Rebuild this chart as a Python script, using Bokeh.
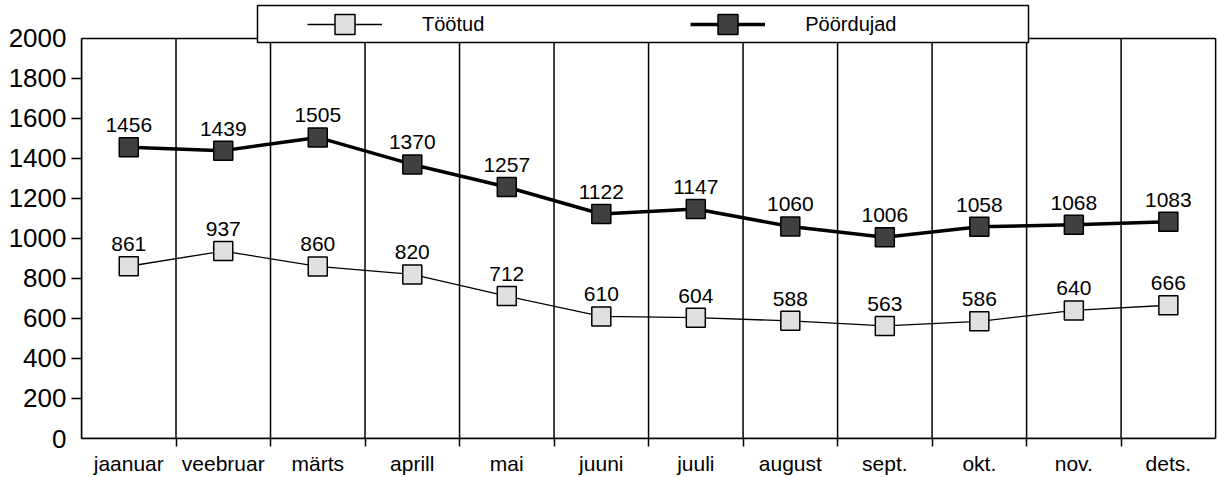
from bokeh.plotting import figure
from bokeh.models import (ColumnDataSource, FixedTicker, Range1d, Legend, LegendItem,
                          LabelSet, BoxAnnotation)
from bokeh.core.properties import value
from bokeh.embed import file_html
from bokeh.resources import INLINE

# ---- data ----
months = ["jaanuar", "veebruar", "märts", "aprill", "mai", "juuni",
          "juuli", "august", "sept.", "okt.", "nov.", "dets."]
tootud = [861, 937, 860, 820, 712, 610, 604, 588, 563, 586, 640, 666]
poordujad = [1456, 1439, 1505, 1370, 1257, 1122, 1147, 1060, 1006, 1058, 1068, 1083]
series_names = ["Töötud", "Pöördujad"]
y_ticks = [0, 200, 400, 600, 800, 1000, 1200, 1400, 1600, 1800, 2000]

# ---- layout constants (pixels) ----
W, H = 1218, 477
LEFT = 81          # frame left
BOTTOM = 38        # x-axis panel height (ticks + standoff + labels)
RIGHT = 1
FRAME_B = H - BOTTOM   # frame bottom, canvas px
TOP_GAP = 38           # y of the 2000 line, canvas px
y_max = y_ticks[-1]
y_end = y_max * FRAME_B / (FRAME_B - TOP_GAP)

n = len(months)
xs = list(range(1, n + 1))
bounds = [i + 0.5 for i in range(1, n)]

p = figure(width=W, height=H, output_backend="svg", toolbar_location=None,
           x_range=Range1d(0.5, n + 0.52), y_range=Range1d(0, y_end),
           min_border_left=LEFT, min_border_right=RIGHT, min_border_top=0,
           min_border_bottom=BOTTOM)
p.outline_line_color = None
p.xgrid.visible = False
p.ygrid.visible = False
p.background_fill_color = "white"
p.border_fill_color = "white"

FONT = "Liberation Sans"

# x axis
xa = p.xaxis[0]
xa.ticker = FixedTicker(ticks=xs, minor_ticks=bounds)
xa.major_label_overrides = {x: m for x, m in zip(xs, months)}
xa.major_tick_line_color = None
xa.major_tick_out = 0
xa.major_tick_in = 0
xa.minor_tick_out = 8
xa.minor_tick_in = 0
xa.minor_tick_line_color = "black"
xa.minor_tick_line_width = 1.5
xa.major_label_standoff = 5
xa.major_label_text_font = FONT
xa.major_label_text_font_size = "21px"
xa.major_label_text_color = "black"
xa.axis_line_width = 1.5
xa.axis_line_color = "black"
xa.bounds = (0.5, n + 0.5)

# y axis
ya = p.yaxis[0]
ya.ticker = FixedTicker(ticks=y_ticks, minor_ticks=y_ticks[1:-1])
ya.major_tick_line_color = None
ya.major_tick_out = 0
ya.major_tick_in = 0
ya.minor_tick_out = 10
ya.minor_tick_in = 0
ya.minor_tick_line_color = "black"
ya.minor_tick_line_width = 1.5
ya.major_label_standoff = 5
ya.major_label_text_font = FONT
ya.major_label_text_font_size = "26px"
ya.major_label_text_color = "black"
ya.axis_line_width = 1.5
ya.axis_line_color = "black"
ya.bounds = (0, y_max)

# frame box and category separators
p.quad(left=[0.5], right=[n + 0.5], bottom=[0], top=[y_max],
       fill_color=None, line_color="black", line_width=1.5)
p.segment(x0=bounds, y0=[0] * len(bounds), x1=bounds, y1=[y_max] * len(bounds),
          line_color="black", line_width=1.5)

src = ColumnDataSource(dict(x=xs, t=tootud, p=poordujad,
                            tl=[str(v) for v in tootud],
                            pl=[str(v) for v in poordujad]))

r1 = p.line("x", "t", source=src, line_color="black", line_width=1.3)
s1 = p.scatter("x", "t", source=src, marker="square", size=19,
               fill_color="#e0e0e0", line_color="black", line_width=1.5)
r2 = p.line("x", "p", source=src, line_color="black", line_width=3.5)
s2 = p.scatter("x", "p", source=src, marker="square", size=19,
               fill_color="#404040", line_color="black", line_width=1.5)

for col, ycol in (("tl", "t"), ("pl", "p")):
    p.add_layout(LabelSet(x="x", y=ycol, text=col, source=src,
                          text_align="center", text_baseline="alphabetic",
                          y_offset=15, text_font=value(FONT),
                          text_font_size=value("21px"),
                          text_color="black"))

# legend box (screen units, relative to the frame's bottom-left)
box = BoxAnnotation(left=257 - LEFT, right=1028 - LEFT,
                    bottom=FRAME_B - 43, top=FRAME_B - 6,
                    left_units="screen", right_units="screen",
                    top_units="screen", bottom_units="screen",
                    fill_color="white", fill_alpha=1.0,
                    line_color="black", line_width=1.5, line_alpha=1.0)
p.add_layout(box)

legend = Legend(items=[LegendItem(label=series_names[0], renderers=[r1, s1]),
                       LegendItem(label=series_names[1], renderers=[r2, s2])],
                location=(307 - LEFT, FRAME_B - 50), orientation="horizontal",
                border_line_alpha=0, background_fill_alpha=0,
                padding=0, margin=0, glyph_width=75, glyph_height=50,
                label_standoff=40, spacing=206,
                label_text_font=FONT, label_text_font_size="20px",
                label_text_color="black")
p.add_layout(legend)

open("out.html", "w").write(file_html(p, INLINE))
